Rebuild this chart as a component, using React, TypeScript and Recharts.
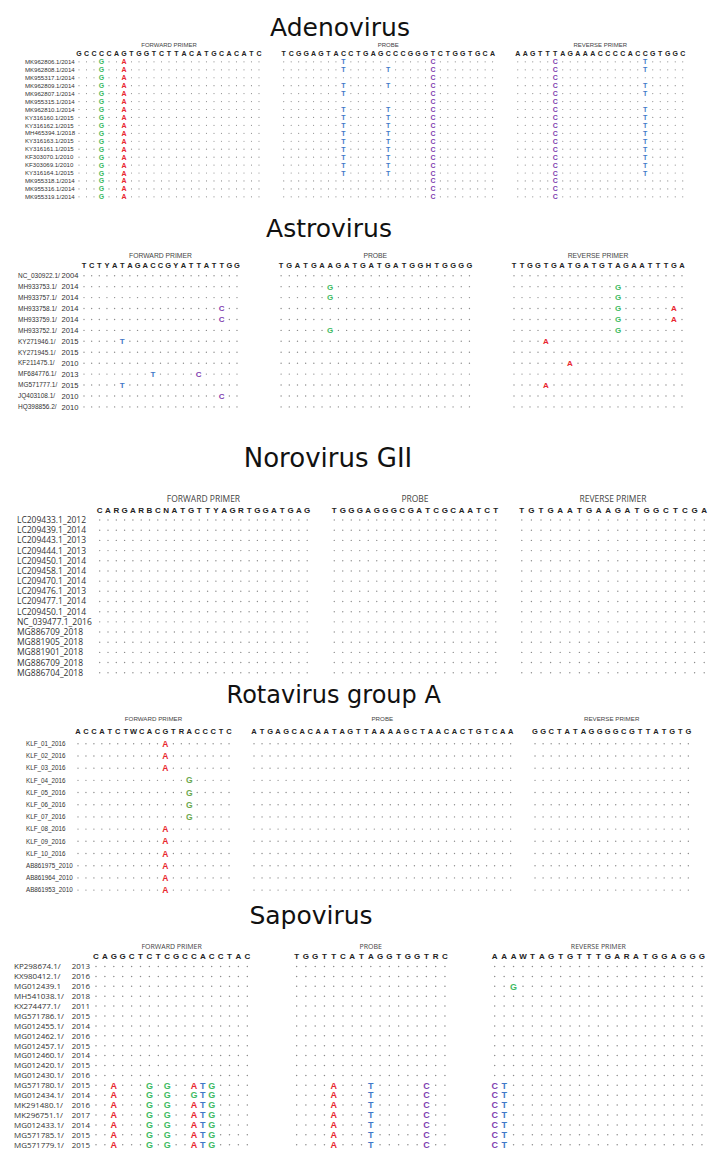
import { ScatterChart, Scatter, XAxis, YAxis } from "recharts";

// ---------- Adenovirus ----------
const adenoNames = [
  "MK962806.1/2014", "MK962808.1/2014", "MK955317.1/2014", "MK962809.1/2014", "MK962807.1/2014",
  "MK955315.1/2014", "MK962810.1/2014", "KY316160.1/2015", "KY316162.1/2015", "MH465394.1/2018",
  "KY316163.1/2015", "KY316161.1/2015", "KF303070.1/2010", "KF303069.1/2010", "KY316164.1/2015",
  "MK955318.1/2014", "MK955316.1/2014", "MK955319.1/2014",
];
const adenoFwdSeq = "GCCCCAGTGGTCTTACATGCACATC";
const adenoProbeSeq = "TCGGAGTACCTGAGCCCGGGTCTGGTGCA";
const adenoRevSeq = "AAGTTTAGAAACCCCACCGTGGC";
const adenoFwd = [
  "...G..A..................", "...G..A..................", "...G..A..................",
  "...G..A..................", "...G..A..................", "...G..A..................",
  "...G..A..................", "...G..A..................", "...G..A..................",
  "...G..A..................", "...G..A..................", "...G..A..................",
  "...G..A..................", "...G..A..................", "...G..A..................",
  "...G..A..................", "...G..A..................", "...G..A..................",
];
const adenoProbe = [
  "........T...........C........", "........T.....T.....C........", "....................C........",
  "........T.....T.....C........", "........T...........C........", "....................C........",
  "........T.....T.....C........", "........T.....T.....C........", "........T.....T.....C........",
  "........T.....T.....C........", "........T.....T.....C........", "........T.....T.....C........",
  "........T.....T.....C........", "........T.....T.....C........", "........T.....T.....C........",
  "....................C........", "....................C........", "....................C........",
];
const adenoRev = [
  ".....C...........T.....", ".....C...........T.....", ".....C.................",
  ".....C...........T.....", ".....C...........T.....", ".....C.................",
  ".....C...........T.....", ".....C...........T.....", ".....C...........T.....",
  ".....C...........T.....", ".....C...........T.....", ".....C...........T.....",
  ".....C...........T.....", ".....C...........T.....", ".....C...........T.....",
  ".....C.................", ".....C.................", ".....C.................",
];

// ---------- Astrovirus ----------
const astroNames = [
  "NC_030922.1/", "MH933753.1/", "MH933757.1/", "MH933758.1/", "MH933759.1/", "MH933752.1/",
  "KY271946.1/", "KY271945.1/", "KF211475.1/", "MF684776.1/", "MG571777.1/", "JQ403108.1/", "HQ398856.2/",
];
const astroYears = ["2004", "2014", "2014", "2014", "2014", "2014", "2015", "2015", "2010", "2013", "2015", "2010", "2010"];
const astroFwdSeq = "TCTYATAGACCGYATTATTGG";
const astroProbeSeq = "TGATGAAGATGATGATGGHTGGGG";
const astroRevSeq = "TTGGTGATGATGTAGAATTTGA";
const astroFwd = [
  ".....................", ".....................", ".....................",
  "..................C..", "..................C..", ".....................",
  ".....T...............", ".....................", ".....................",
  ".........T.....C.....", ".....T...............", "..................C..",
  ".....................",
];
const astroProbe = [
  "........................", "......G.................", "......G.................",
  "........................", "........................", "......G.................",
  "........................", "........................", "........................",
  "........................", "........................", "........................",
  "........................",
];
const astroRev = [
  "......................", ".............G........", ".............G........",
  ".............G......A.", ".............G......A.", ".............G........",
  "....A.................", "......................", ".......A..............",
  "......................", "....A.................", "......................",
  "......................",
];

// ---------- Norovirus GII ----------
const noroNames = [
  "LC209433.1_2012", "LC209439.1_2014", "LC209443.1_2013", "LC209444.1_2013", "LC209450.1_2014",
  "LC209458.1_2014", "LC209470.1_2014", "LC209476.1_2013", "LC209477.1_2014", "LC209450.1_2014",
  "NC_039477.1_2016", "MG886709_2018", "MG881905_2018", "MG881901_2018", "MG886709_2018", "MG886704_2018",
];
const noroFwdSeq = "CARGARBCNATGTTYAGRTGGATGAG";
const noroProbeSeq = "TGGGAGGGCGATCGCAATCT";
const noroRevSeq = "TGTGAATGAAGATGGCTCGA";
const noroFwd = [
  "..........................", "..........................", "..........................", "..........................",
  "..........................", "..........................", "..........................", "..........................",
  "..........................", "..........................", "..........................", "..........................",
  "..........................", "..........................", "..........................", "..........................",
];
const noroProbe = [
  "....................", "....................", "....................", "....................",
  "....................", "....................", "....................", "....................",
  "....................", "....................", "....................", "....................",
  "....................", "....................", "....................", "....................",
];
const noroRev = [
  "....................", "....................", "....................", "....................",
  "....................", "....................", "....................", "....................",
  "....................", "....................", "....................", "....................",
  "....................", "....................", "....................", "....................",
];

// ---------- Rotavirus group A ----------
const rotaNames = [
  "KLF_01_2016", "KLF_02_2016", "KLF_03_2016", "KLF_04_2016", "KLF_05_2016", "KLF_06_2016", "KLF_07_2016",
  "KLF_08_2016", "KLF_09_2016", "KLF_10_2016", "AB861975_2010", "AB861964_2010", "AB861953_2010",
];
const rotaFwdSeq = "ACCATCTWCACGTRACCCTC";
const rotaProbeSeq = "ATGAGCACAATAGTTAAAAGCTAACACTGTCAA";
const rotaRevSeq = "GGCTATAGGGGCGTTATGTG";
const rotaFwd = [
  "...........A........", "...........A........", "...........A........",
  "..............G.....", "..............G.....", "..............G.....", "..............G.....",
  "...........A........", "...........A........", "...........A........",
  "...........A........", "...........A........", "...........A........",
];
const rotaProbe = [
  ".................................", ".................................", ".................................",
  ".................................", ".................................", ".................................",
  ".................................", ".................................", ".................................",
  ".................................", ".................................", ".................................",
  ".................................",
];
const rotaRev = [
  "....................", "....................", "....................", "....................",
  "....................", "....................", "....................", "....................",
  "....................", "....................", "....................", "....................",
  "....................",
];

// ---------- Sapovirus ----------
const sapoNames = [
  "KP298674.1/", "KX980412.1/", "MG012439.1", "MH541038.1/", "KX274477.1/", "MG571786.1/", "MG012455.1/",
  "MG012462.1/", "MG012457.1/", "MG012460.1/", "MG012420.1/", "MG012430.1/", "MG571780.1/", "MG012434.1/",
  "MK291480.1/", "MK296751.1/", "MG012433.1/", "MG571785.1/", "MG571779.1/",
];
const sapoYears = [
  "2013", "2016", "2016", "2018", "2011", "2015", "2014", "2016", "2015", "2014",
  "2015", "2016", "2015", "2014", "2016", "2017", "2014", "2015", "2015",
];
const sapoFwdSeq = "CAGGCTCTCGCCACCTAC";
const sapoProbeSeq = "TGGTTCATAGGTGGTRC";
const sapoRevSeq = "AAAWTAGTGTTTGARATGGAGGG";
const sapoFwd = [
  "..................", "..................", "..................", "..................",
  "..................", "..................", "..................", "..................",
  "..................", "..................", "..................", "..................",
  "..A...G.G..ATG....", "..A...G.G..GTG....", "..A...G.G..ATG....", "..A...G.G..ATG....",
  "..A...G.G..ATG....", "..A...G.G..ATG....", "..A...G.G..ATG....",
];
const sapoProbe = [
  ".................", ".................", ".................", ".................",
  ".................", ".................", ".................", ".................",
  ".................", ".................", ".................", ".................",
  "....A...T.....C..", "....A...T.....C..", "....A...T.....C..", "....A...T.....C..",
  "....A...T.....C..", "....A...T.....C..", "....A...T.....C..",
];
const sapoRev = [
  ".......................", ".......................", "..G....................", ".......................",
  ".......................", ".......................", ".......................", ".......................",
  ".......................", ".......................", ".......................", ".......................",
  "CT.....................", "CT.....................", "CT.....................", "CT.....................",
  "CT.....................", "CT.....................", "CT.....................",
];

// ---------- layout ----------
const NARROW = "'Liberation Sans', Arial, sans-serif";
const SANS = "'Open Sans', 'Liberation Sans', sans-serif";
const BOLD = "'Liberation Sans', Arial, sans-serif";

const baseColors: Record<string, string> = { A: "#e8262e", G: "#3dba62", T: "#3f78c8", C: "#7f3fb0" };

type Region = { header: string; seq: string; rows: string[]; x0: number; step: number };
type Panel = {
  title: string; titleX: number; titleBase: number; titleSize: number;
  headerY: number; headerSize: number; seqY: number; seqSize: number;
  row0: number; rowStep: number; labelX: number; yearX?: number; labelSize: number; yearSize?: number;
  labelFont: string; letterSize: number; dotR: number; green?: string;
  names: string[]; years?: string[]; regions: Region[];
};

const panels: Panel[] = [
  {
    title: "Adenovirus", titleX: 340, titleBase: 36, titleSize: 25,
    headerY: 45, headerSize: 6, seqY: 53.3, seqSize: 7,
    row0: 61.7, rowStep: 7.94, labelX: 25, labelSize: 6.1, labelFont: NARROW,
    letterSize: 7, dotR: 0.6,
    names: adenoNames,
    regions: [
      { header: "FORWARD PRIMER", seq: adenoFwdSeq, rows: adenoFwd, x0: 79, step: 7.5 },
      { header: "PROBE", seq: adenoProbeSeq, rows: adenoProbe, x0: 284, step: 7.46 },
      { header: "REVERSE PRIMER", seq: adenoRevSeq, rows: adenoRev, x0: 517.7, step: 7.5 },
    ],
  },
  {
    title: "Astrovirus", titleX: 329, titleBase: 236.7, titleSize: 25,
    headerY: 255.5, headerSize: 6.8, seqY: 265, seqSize: 7.5,
    row0: 275.8, rowStep: 10.93, labelX: 18, yearX: 61.5, labelSize: 6.5, yearSize: 7.6, labelFont: NARROW,
    letterSize: 8, dotR: 0.7,
    names: astroNames, years: astroYears,
    regions: [
      { header: "FORWARD PRIMER", seq: astroFwdSeq, rows: astroFwd, x0: 84, step: 7.65 },
      { header: "PROBE", seq: astroProbeSeq, rows: astroProbe, x0: 281, step: 8.19 },
      { header: "REVERSE PRIMER", seq: astroRevSeq, rows: astroRev, x0: 514, step: 8.0 },
    ],
  },
  {
    title: "Norovirus GII", titleX: 328, titleBase: 466.5, titleSize: 26,
    headerY: 499, headerSize: 8.5, seqY: 510, seqSize: 8,
    row0: 520, rowStep: 10.18, labelX: 17.3, labelSize: 8.5, labelFont: SANS, letterSize: 8, dotR: 0.7,
    names: noroNames,
    regions: [
      { header: "FORWARD PRIMER", seq: noroFwdSeq, rows: noroFwd, x0: 100, step: 8.3 },
      { header: "PROBE", seq: noroProbeSeq, rows: noroProbe, x0: 334.3, step: 8.5 },
      { header: "REVERSE PRIMER", seq: noroRevSeq, rows: noroRev, x0: 521.7, step: 9.6 },
    ],
  },
  {
    title: "Rotavirus group A", titleX: 333.7, titleBase: 703, titleSize: 24,
    headerY: 719.5, headerSize: 6.2, seqY: 732, seqSize: 7.5,
    row0: 744, rowStep: 12.2, labelX: 25.7, labelSize: 6.3, labelFont: NARROW,
    letterSize: 8.5, dotR: 0.7, green: "#6aa84f",
    names: rotaNames,
    regions: [
      { header: "FORWARD PRIMER", seq: rotaFwdSeq, rows: rotaFwd, x0: 77.7, step: 7.95 },
      { header: "PROBE", seq: rotaProbeSeq, rows: rotaProbe, x0: 254, step: 8.02 },
      { header: "REVERSE PRIMER", seq: rotaRevSeq, rows: rotaRev, x0: 535, step: 8.07 },
    ],
  },
  {
    title: "Sapovirus", titleX: 311, titleBase: 924, titleSize: 25,
    headerY: 946.7, headerSize: 7, seqY: 956, seqSize: 8,
    row0: 966.7, rowStep: 9.9, labelX: 14, yearX: 71.7, labelSize: 8, labelFont: SANS, letterSize: 9, dotR: 0.75,
    names: sapoNames, years: sapoYears,
    regions: [
      { header: "FORWARD PRIMER", seq: sapoFwdSeq, rows: sapoFwd, x0: 96, step: 8.9 },
      { header: "PROBE", seq: sapoProbeSeq, rows: sapoProbe, x0: 296.7, step: 9.27 },
      { header: "REVERSE PRIMER", seq: sapoRevSeq, rows: sapoRev, x0: 495, step: 9.42 },
    ],
  },
];

const range = (n: number) => Array.from({ length: n }, (_, i) => i);
const PAD = 8;

const RegionChart = ({ p, r, labels }: { p: Panel; r: Region; labels: boolean }) => {
  const n = r.seq.length;
  const R = r.rows.length;
  const axisTop = p.headerY - p.headerSize * 0.36;
  const plotTop = p.row0 - p.rowStep / 2;
  const axisH = plotTop - axisTop;
  const consBase = p.seqY + p.seqSize * 0.36;
  const chartLeft = labels ? p.labelX - 2 : r.x0 - r.step / 2;
  const yw = labels ? r.x0 - r.step / 2 - chartLeft : 0;
  const width = yw + n * r.step;
  const height = PAD + axisH + R * p.rowStep + 2;

  const cells: { row: number; col: number; ch: string }[] = [];
  r.rows.forEach((s, row) =>
    s.padEnd(n, ".").slice(0, n).split("").forEach((ch, col) => cells.push({ row, col, ch }))
  );

  const renderCell = (props: any) => {
    const { cx, cy, payload } = props;
    if (payload.ch === ".") return <circle cx={cx} cy={cy} r={p.dotR} fill="#8c8c8c" />;
    const fill = payload.ch === "G" && p.green ? p.green : baseColors[payload.ch] || "#333";
    return (
      <text x={cx} y={cy} dy="0.36em" textAnchor="middle" fontSize={p.letterSize}
        fontWeight="bold" fontFamily={BOLD} fill={fill}>{payload.ch}</text>
    );
  };

  return (
    <div style={{ position: "absolute", left: chartLeft, top: axisTop - PAD }}>
      <ScatterChart width={width} height={height} margin={{ top: PAD, right: 0, bottom: 2, left: 0 }}>
        <XAxis
          type="number" dataKey="col" orientation="top" domain={[-0.5, n - 0.5]} allowDataOverflow
          ticks={range(n)} interval={0} height={axisH} axisLine={false} tickLine={false}
          tickSize={0} tickMargin={plotTop - consBase}
          tick={(t: any) => (
            <text x={t.x} y={t.y} textAnchor="middle" fontSize={p.seqSize} fontWeight="bold"
              fontFamily={BOLD} fill="#222">{r.seq[t.payload.value]}</text>
          )}
          label={{ value: r.header, position: "insideTop", offset: 0, fontSize: p.headerSize,
            fill: "#444", fontFamily: p.labelFont }}
        />
        <YAxis
          type="number" dataKey="row" domain={[-0.5, R - 0.5]} allowDataOverflow reversed
          hide={!labels} width={yw} ticks={range(R)} interval={0} axisLine={false} tickLine={false}
          tick={(t: any) => (
            <g>
              <text x={2} y={t.y} dy="0.35em" textAnchor="start" fontSize={p.labelSize}
                fontFamily={p.labelFont} fill="#333">{p.names[t.payload.value]}</text>
              {p.years && (
                <text x={(p.yearX ?? 0) - chartLeft} y={t.y} dy="0.35em" textAnchor="start"
                  fontSize={p.yearSize ?? p.labelSize} fontFamily={p.labelFont} fill="#333">
                  {p.years[t.payload.value]}
                </text>
              )}
            </g>
          )}
        />
        <Scatter data={cells} isAnimationActive={false} shape={renderCell} />
      </ScatterChart>
    </div>
  );
};

export default function App() {
  return (
    <div style={{ position: "absolute", left: 0, top: 0, width: 720, height: 1166, background: "#fff", overflow: "hidden" }}>
      {panels.map((p) => (
        <div key={p.title}>
          <div style={{
            position: "absolute", left: p.titleX, top: p.titleBase - p.titleSize * 0.846,
            transform: "translateX(-50%)", fontFamily: "'DejaVu Sans', sans-serif",
            fontSize: p.titleSize, lineHeight: 1, whiteSpace: "nowrap", color: "#111",
          }}>{p.title}</div>
          {p.regions.map((r, i) => <RegionChart key={r.header} p={p} r={r} labels={i === 0} />)}
        </div>
      ))}
    </div>
  );
}
